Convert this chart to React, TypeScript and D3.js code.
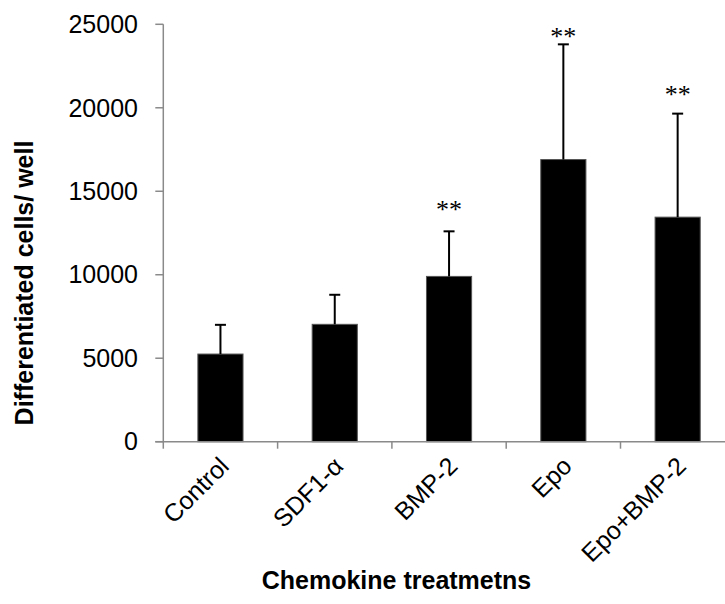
import * as d3 from "d3";

const categories = ["Control", "SDF1-α", "BMP-2", "Epo", "Epo+BMP-2"];
const means = [5250, 7030, 9900, 16900, 13450];
const upperErr = [7000, 8800, 12600, 23800, 19650];
// where the "**" marks sit, in data units (null = none)
const sigLevel = [null, null, 14100, 24500, 21000];
const yTicks = [0, 5000, 10000, 15000, 20000, 25000];

const W = 725;
const H = 604;

const App = () => {
  const x = d3
    .scaleBand()
    .domain(categories)
    .range([163.3, 734.8])
    .padding(0);

  const y = d3.scaleLinear().domain([0, 25000]).range([441.7, 24.3]);

  const barW = x.bandwidth() * 0.395;
  const axisColor = "#8a8a8a";
  const sans = "'Liberation Sans', Arial, sans-serif";

  const bounds = [...categories.map((c) => x(c)), x.range()[1]];

  return (
    <svg
      width={W}
      height={H}
      style={{ position: "absolute", left: 0, top: 0, background: "#fff" }}
    >
      {/* bars */}
      {categories.map((c, i) => {
        const cx = x(c) + x.bandwidth() / 2;
        return (
          <g key={c}>
            <rect
              x={cx - barW / 2}
              y={y(means[i])}
              width={barW}
              height={y(0) - y(means[i])}
              fill="#000"
              stroke="#555"
              strokeWidth={1}
            />
            <line x1={cx} x2={cx} y1={y(means[i])} y2={y(upperErr[i])} stroke="#000" strokeWidth={2} />
            <line x1={cx - 5.5} x2={cx + 5.5} y1={y(upperErr[i])} y2={y(upperErr[i])} stroke="#000" strokeWidth={2} />
            {sigLevel[i] != null && (
              <text
                x={cx}
                y={y(sigLevel[i]) + 12}
                textAnchor="middle"
                fontFamily="'Liberation Serif', 'Times New Roman', serif"
                fontSize={26}
                fill="#000"
              >
                **
              </text>
            )}
          </g>
        );
      })}

      {/* y axis */}
      <line x1={163.3} x2={163.3} y1={y(25000)} y2={y(0)} stroke={axisColor} strokeWidth={1.5} />
      {yTicks.map((t) => (
        <g key={t}>
          <line x1={155.3} x2={163.3} y1={y(t)} y2={y(t)} stroke={axisColor} strokeWidth={1.5} />
          <text
            x={138}
            y={y(t)}
            dy="0.35em"
            textAnchor="end"
            fontFamily={sans}
            fontSize={25}
            fill="#000"
          >
            {t}
          </text>
        </g>
      ))}

      {/* x axis */}
      <line x1={155.3} x2={W} y1={y(0)} y2={y(0)} stroke={axisColor} strokeWidth={1.5} />
      {bounds.map((b, i) => (
        <line key={i} x1={b} x2={b} y1={y(0)} y2={y(0) + 7} stroke={axisColor} strokeWidth={1.5} />
      ))}
      {categories.map((c) => {
        const cx = x(c) + x.bandwidth() / 2;
        return (
          <text
            key={c}
            transform={`translate(${cx + 10},${y(0) + 26}) rotate(-45)`}
            textAnchor="end"
            fontFamily={sans}
            fontSize={25}
            fill="#000"
          >
            {c}
          </text>
        );
      })}

      {/* axis titles */}
      <text
        x={396.5}
        y={589}
        textAnchor="middle"
        fontFamily={sans}
        fontWeight="bold"
        fontSize={25}
        fill="#000"
      >
        Chemokine treatmetns
      </text>
      <text
        transform={`translate(33,${283}) rotate(-90)`}
        textAnchor="middle"
        fontFamily={sans}
        fontWeight="bold"
        fontSize={25}
        fill="#000"
      >
        Differentiated cells/ well
      </text>
    </svg>
  );
};

export default App;
